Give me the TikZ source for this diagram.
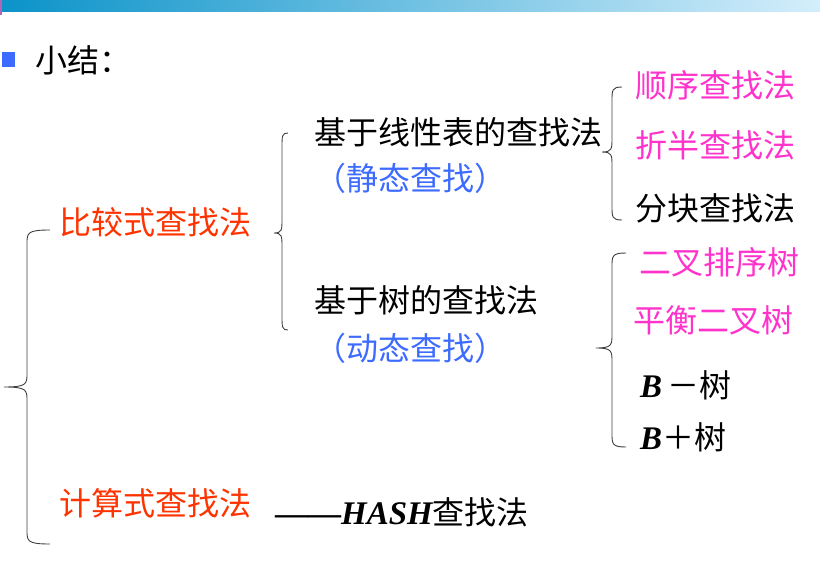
\documentclass[tikz,border=0pt]{standalone}
\usepackage{fontspec}
\setmainfont{Liberation Serif}
\newfontfamily\cjk{Noto Sans CJK SC}
\usepackage{tikz}
\usetikzlibrary{positioning}

\definecolor{redtxt}{HTML}{FF3300}
\definecolor{bluetxt}{HTML}{3D6BFF}
\definecolor{pinktxt}{HTML}{FF33CC}
\definecolor{barleft}{HTML}{0B93C9}
\definecolor{barright}{HTML}{D4EEFB}
\definecolor{bracegray}{HTML}{404040}

\tikzset{
  lbl/.style={anchor=west,inner sep=0pt,font=\cjk\fontsize{32}{32}\selectfont},
  bracepath/.style={draw=bracegray,line width=0.9pt},
}
% bold italic latin inside the labels
\newcommand{\latbi}[1]{{\rmfamily\bfseries\itshape\fontsize{33}{33}\selectfont #1}}
% left brace: end x, stem x, tip x, top y, tip y, bottom y
\newcommand{\leftcurly}[6]{%
  \draw[bracepath] (#1,#4) .. controls (#2,#4) and (#2,#4+3) .. (#2,#4+14)
    -- (#2,#5-14) .. controls (#2,#5-3) and (#2,#5) .. (#3,#5)
    .. controls (#2,#5) and (#2,#5+3) .. (#2,#5+14)
    -- (#2,#6-14) .. controls (#2,#6-3) and (#2,#6) .. (#1,#6);}

\begin{document}
\begin{tikzpicture}[x=1pt,y=-1pt]
  \useasboundingbox (0,0) rectangle (820,579);
  % title bar
  \shade[left color=barleft,right color=barright] (0,0) rectangle (820,11);
  \fill[violet!60] (0,0) rectangle (1.5,15);
  \fill[bluetxt] (2,52) rectangle (15,67);
  \node[lbl] (title) at (35,60) {小结：};
  % first level
  \node[lbl,text=redtxt] (cmp) at (59,222) {比较式查找法};
  \node[lbl,text=redtxt] (calc) at (59,503) {计算式查找法};
  \node[lbl] (hash) at (275,512) {{\rmfamily\bfseries\fontsize{33}{33}\selectfont ——}\latbi{HASH}查找法};
  % second level
  \node[lbl] (linear) at (314,132) {基于线性表的查找法};
  \node[lbl,text=bluetxt] (static) at (314,178) {（静态查找）};
  \node[lbl] (tree) at (314,300) {基于树的查找法};
  \node[lbl,text=bluetxt] (dynamic) at (314,348) {（动态查找）};
  % third level: linear
  \node[lbl,text=pinktxt] (seq) at (635,85) {顺序查找法};
  \node[lbl,text=pinktxt] (bin) at (635,145) {折半查找法};
  \node[lbl] (block) at (635,208) {分块查找法};
  % third level: tree
  \node[lbl,text=pinktxt] (bst) at (639,262) {二叉排序树};
  \node[lbl,text=pinktxt] (avl) at (633,320) {平衡二叉树};
  \node[lbl] (bminus) at (640,385) {\latbi{B}\,－树};
  \node[lbl] (bplus) at (640,437) {\latbi{B}＋树};
  % braces
  \leftcurly{50}{27}{4}{230}{387}{544}
  \leftcurly{288}{282}{274}{133}{233}{330}
  \leftcurly{622}{612}{602}{87}{152}{220}
  \leftcurly{626}{612}{596}{253}{348}{447}
\end{tikzpicture}
\end{document}
